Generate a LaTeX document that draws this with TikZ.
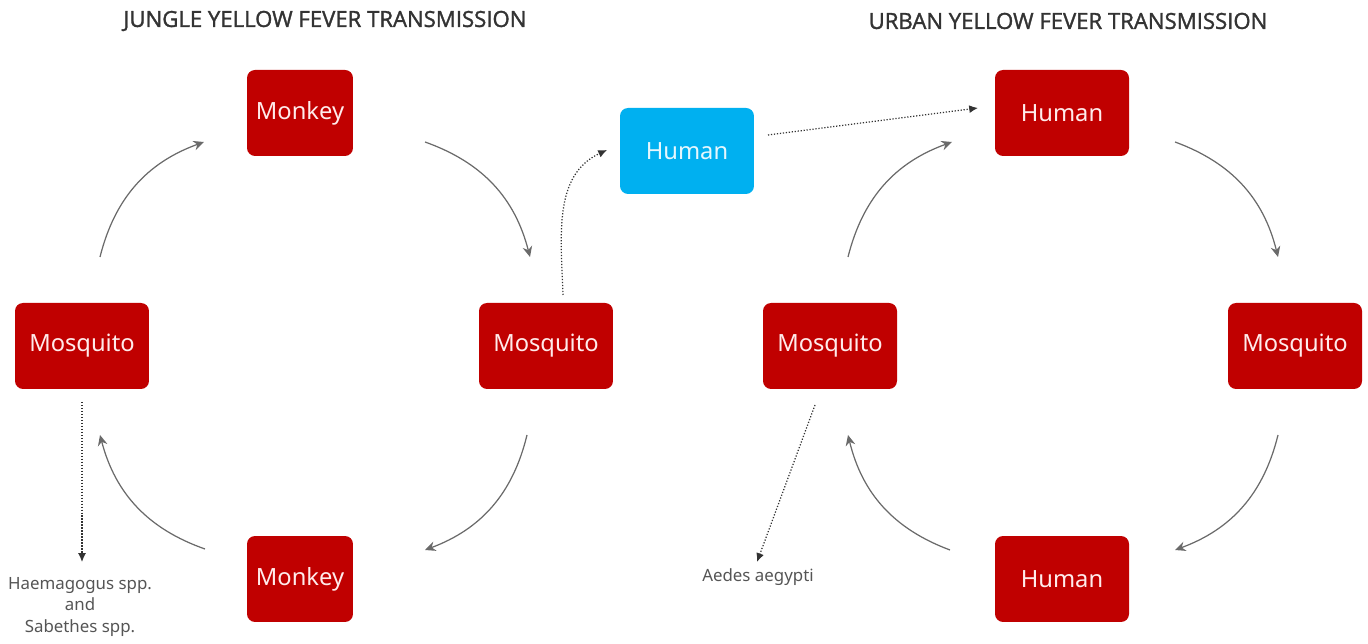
\documentclass[tikz,border=0pt]{standalone}
\usepackage{fontspec}
\setmainfont{Noto Sans}
\newfontfamily\titlefont[FakeBold=1.5]{Open Sans}
\usetikzlibrary{arrows.meta}
\definecolor{boxred}{HTML}{C00000}
\definecolor{boxblue}{HTML}{00B0F0}
\definecolor{arrowgray}{HTML}{6A6A6A}
\definecolor{labelgray}{HTML}{555555}
\definecolor{titlegray}{HTML}{333333}
\begin{document}
\begin{tikzpicture}[x=0.02cm,y=0.02cm,
  box/.style={rectangle, rounded corners=0.16cm, fill=boxred, text=white!92!red,
    minimum height=1.72cm, inner sep=0pt, font=\fontsize{13.5}{16}\selectfont},
  smallbox/.style={box, minimum width=2.12cm},
  widebox/.style={box, minimum width=2.68cm},
  bluebox/.style={widebox, fill=boxblue, text=white!90!cyan},
  title/.style={font=\titlefont\fontsize{12.6}{15}\selectfont, text=titlegray},
  species/.style={font=\fontsize{9.6}{12}\selectfont, text=labelgray, align=center},
  cyc/.style={draw=arrowgray, line width=0.7pt, -{Stealth[length=6pt,width=5.5pt]}, bend left=28},
  dot/.style={draw=black!80, densely dotted, line width=0.7pt, -{Latex[length=5pt,width=4.5pt]}}
]
\useasboundingbox (0,0) rectangle (1368,644);
% titles
\node[title] (t1) at (325,623) {JUNGLE YELLOW FEVER TRANSMISSION};
\node[title] (t2) at (1068,623) {URBAN YELLOW FEVER TRANSMISSION};
% jungle cycle
\node[smallbox] (monkeyT) at (300,531) {Monkey};
\node[widebox] (mosqL) at (82,298) {Mosquito};
\node[widebox] (mosqM) at (546,298) {Mosquito};
\node[smallbox] (monkeyB) at (300,65) {Monkey};
% bridge
\node[bluebox] (humanB) at (687,493) {Human};
% urban cycle
\node[widebox] (humanT) at (1062,531) {Human};
\node[widebox] (mosqU) at (830,298) {Mosquito};
\node[widebox] (mosqR) at (1295,298) {Mosquito};
\node[widebox] (humanD) at (1062,65) {Human};
% species labels
\node[species] (haem) at (80,37) {Haemagogus spp.\\and\\Sabethes spp.};
\node[species] (aedes) at (758,67) {Aedes aegypti};
% arrow end points
\coordinate (a1s) at (100,387); \coordinate (a1e) at (204,502);
\coordinate (a2s) at (425,502); \coordinate (a2e) at (530,387);
\coordinate (a3s) at (527,209); \coordinate (a3e) at (425,94);
\coordinate (a4s) at (205,95);  \coordinate (a4e) at (100,209);
\coordinate (b1s) at (848,387); \coordinate (b1e) at (952,502);
\coordinate (b2s) at (1175,502); \coordinate (b2e) at (1278,387);
\coordinate (b3s) at (1278,209); \coordinate (b3e) at (1175,94);
\coordinate (b4s) at (950,94);  \coordinate (b4e) at (848,209);
\coordinate (d1s) at (563,349); \coordinate (d1e) at (607,494);
\coordinate (d2s) at (768,509); \coordinate (d2e) at (978,536);
\coordinate (d3s) at (82,242);  \coordinate (d3e) at (82,82);
\coordinate (d4s) at (815,239); \coordinate (d4e) at (757,82);
% cycle arrows
\draw[cyc] (a1s) to (a1e);
\draw[cyc] (a2s) to (a2e);
\draw[cyc] (a3s) to (a3e);
\draw[cyc] (a4s) to (a4e);
\draw[cyc] (b1s) to (b1e);
\draw[cyc] (b2s) to (b2e);
\draw[cyc] (b3s) to (b3e);
\draw[cyc] (b4s) to (b4e);
% dotted arrows
\draw[dot] (d1s) to[out=92, in=205] (d1e);
\draw[dot] (d2s) -- (d2e);
\draw[dot] (d3s) -- (d3e);
\draw[dot] (d4s) -- (d4e);
\end{tikzpicture}
\end{document}
